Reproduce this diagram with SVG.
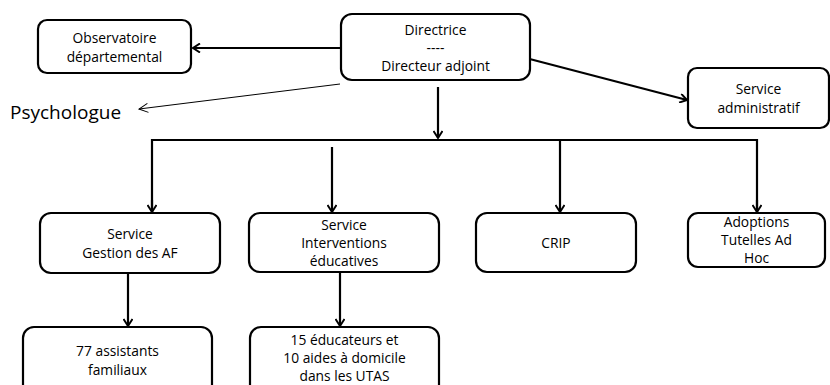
<svg xmlns="http://www.w3.org/2000/svg" width="830" height="385" viewBox="0 0 830 385">
<style>
.box{fill:#fff;stroke:#000;stroke-width:2.2}
.t{font-family:"Open Sans","Liberation Sans",sans-serif;font-size:13.8px;fill:#000;text-anchor:middle}
.c{fill:none;stroke:#000;stroke-width:2.2}
.thin{fill:none;stroke:#000;stroke-width:1}
</style>
<defs>
<marker id="ah" markerWidth="10" markerHeight="10" refX="8" refY="5" orient="auto" markerUnits="userSpaceOnUse">
<path d="M1,0.5 L8,5 L1,9.5" fill="none" stroke="#000" stroke-width="2"/>
</marker>
<marker id="ahThin" markerWidth="12" markerHeight="12" refX="10" refY="6" orient="auto" markerUnits="userSpaceOnUse">
<path d="M1,1.5 L10,6 L1,10.5" fill="none" stroke="#000" stroke-width="1"/>
</marker>
</defs>
<rect width="830" height="385" fill="#fff"/>
<g id="connectors">
<line class="c" x1="340" y1="48" x2="193" y2="48" marker-end="url(#ah)"/>
<line class="thin" x1="340" y1="84" x2="139" y2="109" marker-end="url(#ahThin)"/>
<line class="c" x1="522" y1="57" x2="687" y2="100" marker-end="url(#ah)"/>
<line class="c" x1="438" y1="87" x2="438" y2="138" marker-end="url(#ah)"/>
<polyline class="c" points="152,212 152,140 757,140 757,212"/>
<line class="c" x1="152" y1="200" x2="152" y2="212" marker-end="url(#ah)"/>
<line class="c" x1="757" y1="200" x2="757" y2="212" marker-end="url(#ah)"/>
<line class="c" x1="332" y1="147" x2="332" y2="212" marker-end="url(#ah)"/>
<line class="c" x1="560" y1="140" x2="560" y2="212" marker-end="url(#ah)"/>
<line class="c" x1="128" y1="273" x2="128" y2="326" marker-end="url(#ah)"/>
<line class="c" x1="340" y1="273" x2="340" y2="326" marker-end="url(#ah)"/>
</g>
<g id="observatoire">
<rect class="box" x="38" y="20" width="153" height="53" rx="9"/>
<text class="t" x="114.5" y="43">Observatoire</text>
<text class="t" x="114.5" y="62">départemental</text>
</g>
<g id="directrice">
<rect class="box" x="341" y="14" width="189" height="66" rx="11"/>
<text class="t" x="435.5" y="35">Directrice</text>
<text class="t" x="435.5" y="53">----</text>
<text class="t" x="435.5" y="71">Directeur adjoint</text>
</g>
<g id="psychologue">
<text x="10" y="119" font-family="Open Sans, Liberation Sans, sans-serif" font-size="19" fill="#000">Psychologue</text>
</g>
<g id="administratif">
<rect class="box" x="688" y="68" width="141" height="60" rx="9"/>
<text class="t" x="758.5" y="94">Service</text>
<text class="t" x="758.5" y="113">administratif</text>
</g>
<g id="gestion">
<rect class="box" x="40" y="213" width="180" height="60" rx="11"/>
<text class="t" x="130" y="239">Service</text>
<text class="t" x="130" y="258">Gestion des AF</text>
</g>
<g id="interventions">
<rect class="box" x="249" y="213" width="190" height="59" rx="11"/>
<text class="t" x="344" y="230">Service</text>
<text class="t" x="344" y="248">Interventions</text>
<text class="t" x="344" y="266">éducatives</text>
</g>
<g id="crip">
<rect class="box" x="476" y="213" width="160" height="59" rx="11"/>
<text class="t" x="556" y="248">CRIP</text>
</g>
<g id="adoptions">
<rect class="box" x="688" y="213" width="137" height="54" rx="10"/>
<text class="t" x="756.5" y="227">Adoptions</text>
<text class="t" x="756.5" y="245">Tutelles Ad</text>
<text class="t" x="756.5" y="263">Hoc</text>
</g>
<g id="assistants">
<rect class="box" x="23" y="327" width="189" height="70" rx="11"/>
<text class="t" x="117.5" y="356">77 assistants</text>
<text class="t" x="117.5" y="375">familiaux</text>
</g>
<g id="educateurs">
<rect class="box" x="250" y="327" width="189" height="70" rx="11"/>
<text class="t" x="344.5" y="345">15 éducateurs et</text>
<text class="t" x="344.5" y="363">10 aides à domicile</text>
<text class="t" x="344.5" y="381">dans les UTAS</text>
</g>
</svg>
